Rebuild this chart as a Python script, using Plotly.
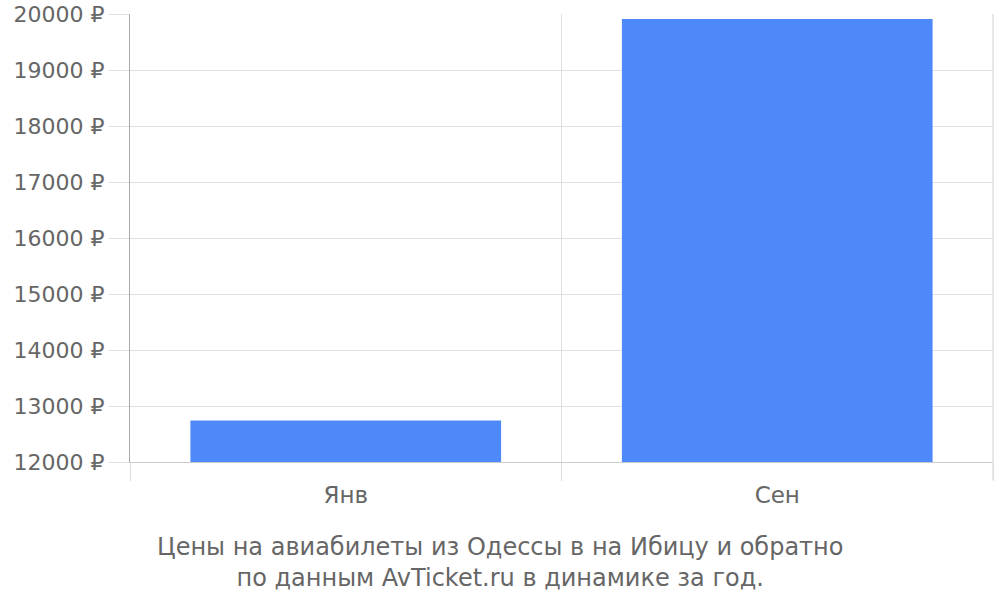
"""Ticket price bar chart."""
import plotly.graph_objects as go

months = ['Янв', 'Сен']
prices = [12740, 19910]
y_ticks = list(range(12000, 20001, 1000))
y_labels = [f'{v} ₽' for v in y_ticks]
caption = 'Цены на авиабилеты из Одессы в на Ибицу и обратно<br>по данным AvTicket.ru в динамике за год.'

text_color = '#666666'
grid_color = '#e0e0e0'

fig = go.Figure()
fig.add_trace(go.Bar(x=months, y=prices, marker=dict(color='#4e89fa', line=dict(width=0)), showlegend=False))

fig.update_layout(
    width=1000, height=600,
    margin=dict(l=130, r=7, t=14, b=138),
    paper_bgcolor='white', plot_bgcolor='white',
    font=dict(family='DejaVu Sans', size=22, color=text_color),
    bargap=0.28,
    annotations=[dict(
        text=caption, xref='paper', yref='paper', x=0.4287, y=-0.155,
        xanchor='center', yanchor='top', showarrow=False,
        font=dict(family='DejaVu Sans', size=24, color=text_color),
    )],
    shapes=[dict(type='line', xref='paper', yref='paper', x0=1, x1=1, y0=-0.04, y1=1,
                 line=dict(color=grid_color, width=1.5))],
)
fig.update_xaxes(
    type='category', tickson='boundaries', ticks='outside', ticklen=18, tickcolor='#dddddd',
    showgrid=True, gridcolor=grid_color, showline=True, linecolor='#cccccc',
    tickfont=dict(size=23, color=text_color), automargin=False, ticklabelstandoff=12,
)
fig.update_yaxes(
    range=[12000, 20000], tickvals=y_ticks, ticktext=y_labels,
    ticks='outside', ticklen=20, tickcolor=grid_color, ticklabeloverflow='allow',
    showgrid=True, gridcolor=grid_color, showline=True, linecolor='#aaaaaa',
    zeroline=False, tickfont=dict(size=22, color=text_color), automargin=False,
)

# drop the default body margin so the figure sits at the page corner
fig.write_html('out.html', config={'displayModeBar': False},
               post_script="document.body.style.margin='0';document.body.style.overflow='hidden';")
